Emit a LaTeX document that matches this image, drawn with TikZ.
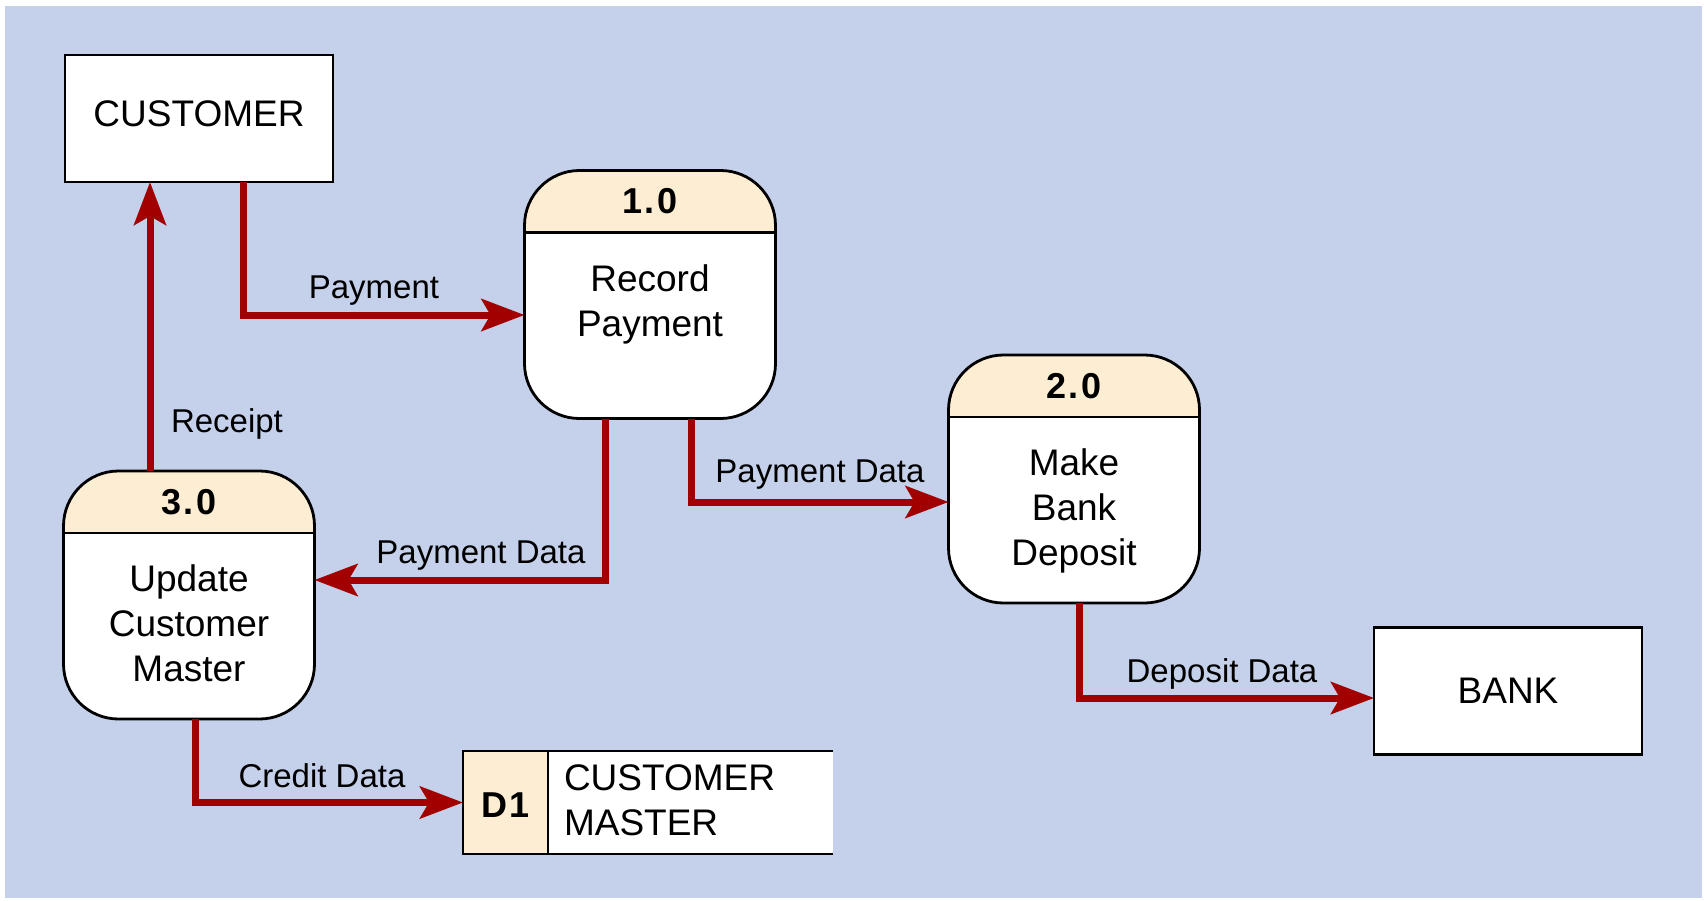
\documentclass[tikz,border=0pt]{standalone}
\usepackage{fontspec}
\setmainfont{Liberation Sans}
\usetikzlibrary{arrows.meta}

\definecolor{bgblue}{RGB}{197,209,234}
\definecolor{hdrpeach}{RGB}{253,237,210}
\definecolor{flowred}{RGB}{162,0,0}

\begin{document}
\begin{tikzpicture}[x=1pt,y=-1pt,
  every node/.style={inner sep=0pt, outer sep=0pt},
  border/.style={draw=black, line width=2.8pt},
  entity/.style={border, fill=white, minimum width=268pt, minimum height=127pt,
    font=\fontsize{37}{45}\selectfont},
  proc/.style={border, fill=white, rounded corners=55pt,
    minimum width=251pt, minimum height=248pt,
    path picture={
      \fill[hdrpeach, sharp corners] (path picture bounding box.north west)
        rectangle ([yshift=-62pt]path picture bounding box.north east);
      \draw[black, line width=2.8pt, sharp corners]
        ([yshift=-62pt]path picture bounding box.north west) --
        ([yshift=-62pt]path picture bounding box.north east);
    }},
  procnum/.style={font=\fontsize{36}{42}\bfseries\addfontfeatures{LetterSpace=7}\selectfont},
  proctext/.style={font=\fontsize{37}{45}\selectfont, align=center, anchor=north},
  flowlabel/.style={font=\fontsize{33}{40}\selectfont, anchor=base},
  flow/.style={draw=flowred, line width=7pt,
    -{Stealth[length=43pt,width=32pt,inset=9pt]}},
]
\useasboundingbox (0,0) rectangle (1704,900);
\fill[bgblue] (5,6) rectangle (1702,898);

% external entities
\node[entity, text depth=9pt] (cust) at (199,118.5) {CUSTOMER};
\node[entity] (bank) at (1508,691) {BANK};

% processes
\node[proc] (p1) at (650,294.5) {};
\node[proc] (p2) at (1074,479) {};
\node[proc] (p3) at (189,595) {};

\node[procnum] (p1num) at ([yshift=-31pt]p1.north) {1.0};
\node[procnum] (p2num) at ([yshift=-31pt]p2.north) {2.0};
\node[procnum] (p3num) at ([yshift=-31pt]p3.north) {3.0};

\node[proctext] (p1txt) at ([yshift=-94pt]p1.north) {Record\\Payment};
\node[proctext] (p2txt) at ([yshift=-94pt]p2.north) {Make\\Bank\\Deposit};
\node[proctext] (p3txt) at ([yshift=-94pt]p3.north) {Update\\Customer\\Master};

% data store
\node[fill=white, minimum width=285pt, minimum height=103pt] (cm) at (690.5,802.5) {};
\node[border, fill=hdrpeach, minimum width=85pt, minimum height=103pt,
  anchor=east] (d1) at (cm.west) {};
\node[procnum] (d1txt) at ([yshift=-3pt]d1.center) {D1};
\draw[border] (d1.north east) -- (cm.north east);
\draw[border] (d1.south east) -- (cm.south east);
\node[font=\fontsize{37}{45}\selectfont, align=left, anchor=north west]
  (cmtxt) at ([xshift=16pt, yshift=-14pt]cm.north west) {CUSTOMER\\MASTER};

% data flows
\draw[flow] ([xshift=-39pt]p3.north) -- ([xshift=-49pt]cust.south);
\draw[flow] ([xshift=44pt]cust.south) |- ([yshift=-20.5pt]p1.west);
\draw[flow] ([xshift=-45pt]p1.south) |- ([yshift=15pt]p3.east);
\draw[flow] ([xshift=41pt]p1.south) |- ([yshift=-23pt]p2.west);
\draw[flow] ([xshift=5pt]p2.south) |- ([yshift=-7pt]bank.west);
\draw[flow] ([xshift=6pt]p3.south) |- (d1.west);

% flow labels
\node[flowlabel] (lpay) at (374,298) {Payment};
\node[flowlabel, anchor=base west] (lrec) at (171,432) {Receipt};
\node[flowlabel] (lpd3) at (481,563) {Payment Data};
\node[flowlabel] (lpd2) at (820,482) {Payment Data};
\node[flowlabel] (ldep) at (1222,682) {Deposit Data};
\node[flowlabel] (lcred) at (322,787) {Credit Data};
\end{tikzpicture}
\end{document}
